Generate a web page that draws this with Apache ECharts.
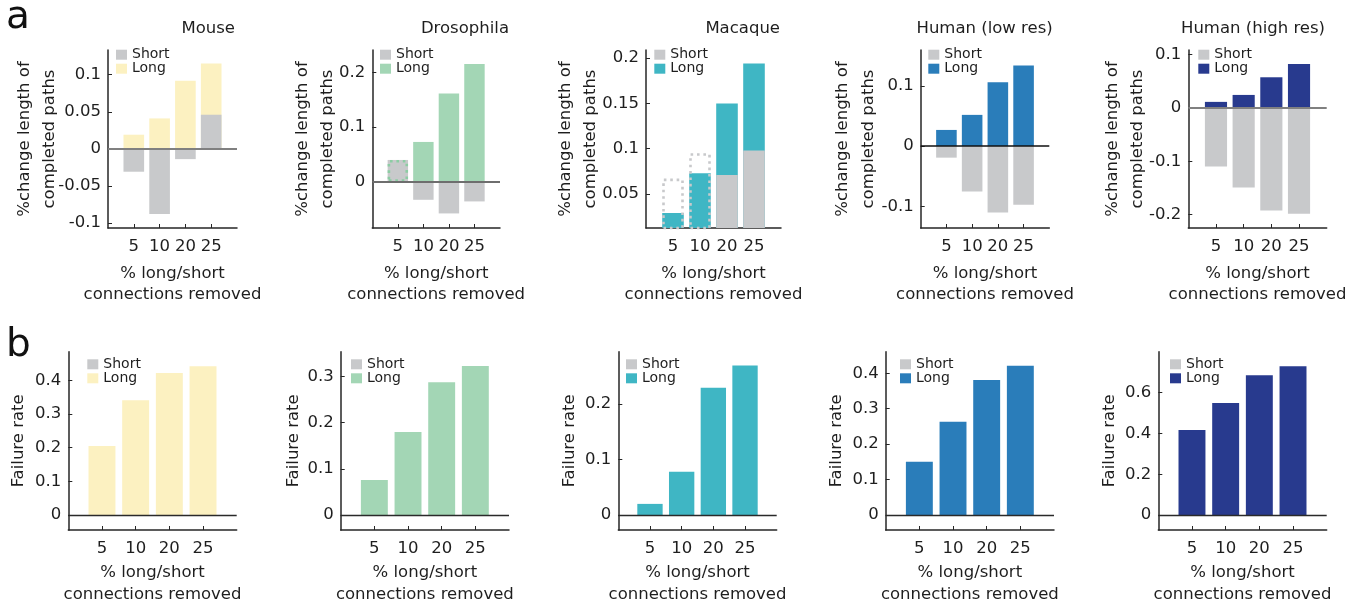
<!DOCTYPE html>
<html><head><meta charset="utf-8">
<script src="https://cdn.jsdelivr.net/npm/echarts@6/dist/echarts.min.js"></script>
<style>html,body{margin:0;padding:0;background:#fff}#chart{width:1354px;height:608px}</style>
</head><body><div id="chart"></div>
<script>
// ---------------- DATA ----------------
const categories = ['5', '10', '20', '25'];
const species = ['Mouse', 'Drosophila', 'Macaque', 'Human (low res)', 'Human (high res)'];
const legendNames = ['Short', 'Long'];
const panelLetters = ['a', 'b'];
const yNameChange = '%change length of\ncompleted paths';
const yNameFailure = 'Failure rate';
const xName = '% long/short\nconnections removed';

// Row a: %change length of completed paths
const mouseShortChange = [-0.031, -0.088, -0.014, 0.046];
const mouseLongChange = [0.019, 0.041, 0.092, 0.115];
const drosophilaShortChange = [0.040, -0.033, -0.058, -0.036];
const drosophilaLongChange = [0.040, 0.073, 0.162, 0.216];
const macaqueShortChange = [0.067, 0.095, 0.071, 0.098];
const macaqueLongChange = [0.029, 0.073, 0.150, 0.194];
const humanLowShortChange = [-0.019, -0.075, -0.110, -0.097];
const humanLowLongChange = [0.027, 0.052, 0.106, 0.134];
const humanHighShortChange = [-0.110, -0.149, -0.192, -0.198];
const humanHighLongChange = [0.011, 0.024, 0.057, 0.082];

// non-significant bars drawn as dotted outlines (category indices)
const drosophilaLongDotted = [0];
const macaqueShortDotted = [0, 1];

// Row b: failure rate (only Long bars are present)
const mouseFailure = [0.205, 0.341, 0.422, 0.442];
const drosophilaFailure = [0.076, 0.180, 0.288, 0.323];
const macaqueFailure = [0.020, 0.078, 0.229, 0.269];
const humanLowFailure = [0.150, 0.263, 0.381, 0.421];
const humanHighFailure = [0.417, 0.549, 0.686, 0.730];

// tick labels
const mouseChangeTicks = [-0.1, -0.05, 0, 0.05, 0.1];
const drosophilaChangeTicks = [0, 0.1, 0.2];
const macaqueChangeTicks = [0.05, 0.1, 0.15, 0.2];
const humanLowChangeTicks = [-0.1, 0, 0.1];
const humanHighChangeTicks = [-0.2, -0.1, 0, 0.1];
const mouseFailureTicks = [0, 0.1, 0.2, 0.3, 0.4];
const drosophilaFailureTicks = [0, 0.1, 0.2, 0.3];
const macaqueFailureTicks = [0, 0.1, 0.2];
const humanLowFailureTicks = [0, 0.1, 0.2, 0.3, 0.4];
const humanHighFailureTicks = [0, 0.2, 0.4, 0.6];

// ---------------- STYLE / LAYOUT ----------------
const FONT = 'DejaVu Sans';
const TXT = '#1e1e1e';
const AX = '#262626';
const SHORT_COLOR = '#C8C9CB';
const longColors = ['#FCF1C1', '#A3D6B5', '#3FB6C4', '#2A7DBA', '#283A8E'];
const dotColors = ['#F5E08A', '#8CCDA3', '#3FB6C4', '#2A7DBA', '#283A8E'];

const rowA = [
  {short: mouseShortChange, long: mouseLongChange, ticks: mouseChangeTicks, min: -0.107, max: 0.1334,
   left: 108, width: 129, nameGap: 45.5, legendLeft: 116, zero: '#808080', zeroW: 2, titleRight: 235, shortOnTop: true},
  {short: drosophilaShortChange, long: drosophilaLongChange, ticks: drosophilaChangeTicks, min: -0.0847, max: 0.2415,
   left: 372.3, width: 127.7, nameGap: 31.5, legendLeft: 380, zero: '#6e6e6e', zeroW: 2, titleRight: 509, shortOnTop: false,
   longDotted: drosophilaLongDotted},
  {short: macaqueShortChange, long: macaqueLongChange, ticks: macaqueChangeTicks, min: 0.0124, max: 0.209,
   left: 646, width: 135, nameGap: 42.2, legendLeft: 654.3, zero: null, titleRight: 780, shortOnTop: true,
   shortDotted: macaqueShortDotted},
  {short: humanLowShortChange, long: humanLowLongChange, ticks: humanLowChangeTicks, min: -0.1358, max: 0.1597,
   left: 920.7, width: 128.6, nameGap: 39.5, legendLeft: 928.3, zero: '#111111', zeroW: 1.5, titleRight: 1052.7, shortOnTop: true},
  {short: humanHighShortChange, long: humanHighLongChange, ticks: humanHighChangeTicks, min: -0.2248, max: 0.108,
   left: 1188.3, width: 138.4, nameGap: 37.5, legendLeft: 1198.3, zero: '#808080', zeroW: 2, titleRight: 1325, shortOnTop: true}
];
const rowB = [
  {long: mouseFailure, ticks: mouseFailureTicks, min: -0.0445, max: 0.485, left: 68.3, width: 168.4, nameGap: 41, legendLeft: 87.3},
  {long: drosophilaFailure, ticks: drosophilaFailureTicks, min: -0.0325, max: 0.354, left: 340.7, width: 168.3, nameGap: 38.4, legendLeft: 351},
  {long: macaqueFailure, ticks: macaqueFailureTicks, min: -0.027, max: 0.294, left: 618.3, width: 158.4, nameGap: 39.3, legendLeft: 626},
  {long: humanLowFailure, ticks: humanLowFailureTicks, min: -0.0424, max: 0.461, left: 885.7, width: 168.3, nameGap: 40, legendLeft: 900},
  {long: humanHighFailure, ticks: humanHighFailureTicks, min: -0.0735, max: 0.801, left: 1158.3, width: 168.4, nameGap: 39.3, legendLeft: 1170}
];

const paddedCats = [' ', ...categories, '  '];
const fmt = v => String(Math.round(v * 1000) / 1000);

const grid = [], xAxis = [], yAxis = [], series = [], legend = [], title = [];

function dottedStyle(color) {
  return {color: 'rgba(0,0,0,0)', borderColor: color, borderWidth: 2.6, borderType: [2.6, 3.8]};
}
function toData(arr, dotted, dotColor) {
  return ['-', ...arr.map((v, i) => (dotted && dotted.indexOf(i) >= 0) ? {value: v, itemStyle: dottedStyle(dotColor)} : v), '-'];
}

function addPanel(idx, cfg, row, sp) {
  const top = row === 0 ? 50 : 351.7;
  const height = row === 0 ? 178 : 178.3;
  grid.push({left: cfg.left, top: top, width: cfg.width, height: height, containLabel: false});
  xAxis.push({
    type: 'category', gridIndex: idx, data: paddedCats, boundaryGap: false,
    axisLine: {show: true, onZero: false, lineStyle: {color: AX, width: 1.5}},
    axisTick: {show: true, inside: true, length: 4, interval: (i) => i >= 1 && i <= categories.length, lineStyle: {color: AX, width: 1}},
    axisLabel: {interval: 0, margin: 10, fontFamily: FONT, fontSize: 16.5, color: TXT},
    splitLine: {show: false},
    name: xName, nameLocation: 'middle', nameGap: row === 0 ? 35 : 32, nameMoveOverlap: false,
    nameTextStyle: {fontFamily: FONT, fontSize: 16.5, color: TXT, lineHeight: row === 0 ? 21 : 22}
  });
  yAxis.push({
    type: 'value', gridIndex: idx, min: cfg.min, max: cfg.max,
    axisLine: {show: true, lineStyle: {color: AX, width: 1.5}},
    axisTick: {show: true, inside: true, length: 4, customValues: cfg.ticks, lineStyle: {color: AX, width: 1}},
    axisLabel: {customValues: cfg.ticks, formatter: fmt, margin: 7, fontFamily: FONT, fontSize: 16.5, color: TXT},
    splitLine: {show: false},
    name: row === 0 ? yNameChange : yNameFailure, nameLocation: 'middle', nameGap: cfg.nameGap,
    nameMoveOverlap: row !== 0,
    nameTextStyle: {fontFamily: FONT, fontSize: 16.5, color: TXT, lineHeight: row === 0 ? 25.5 : 18}
  });
  const tag = '|' + row + sp;
  const shortName = legendNames[0] + tag, longName = legendNames[1] + tag;
  const shortSeries = {
    type: 'bar', name: shortName, xAxisIndex: idx, yAxisIndex: idx, barWidth: '80%', barGap: '-100%',
    itemStyle: {color: SHORT_COLOR},
    data: cfg.short ? toData(cfg.short, cfg.shortDotted, SHORT_COLOR) : []
  };
  const longSeries = {
    type: 'bar', name: longName, xAxisIndex: idx, yAxisIndex: idx, barWidth: '80%', barGap: '-100%',
    itemStyle: {color: longColors[sp]},
    data: toData(cfg.long, cfg.longDotted, dotColors[sp])
  };
  const zeroColor = row === 0 ? cfg.zero : '#2a2a2a';
  if (zeroColor) {
    longSeries.markLine = {
      silent: true, symbol: 'none', animation: false, z: 5,
      label: {show: false},
      lineStyle: {color: zeroColor, width: row === 0 ? cfg.zeroW : 1.3, type: 'solid'},
      emphasis: {disabled: true},
      data: [{yAxis: 0}]
    };
  }
  if (cfg.shortOnTop === false) { series.push(shortSeries, longSeries); }
  else { series.push(longSeries, shortSeries); }
  legend.push({
    data: [shortName, longName], orient: 'vertical', left: cfg.legendLeft,
    top: row === 0 ? 47.7 : 357.3, padding: 0, itemGap: 0, itemWidth: 11, itemHeight: 10,
    icon: 'rect', selectedMode: false,
    formatter: n => n.split('|')[0],
    textStyle: {fontFamily: FONT, fontSize: 14, color: TXT, lineHeight: 14}
  });
  if (row === 0) {
    title.push({text: species[sp], left: cfg.titleRight, top: 19, textAlign: 'right', padding: 0,
      textStyle: {fontFamily: FONT, fontSize: 16.5, fontWeight: 'normal', color: TXT, lineHeight: 20}});
  }
}

rowA.forEach((cfg, i) => addPanel(i, cfg, 0, i));
rowB.forEach((cfg, i) => addPanel(5 + i, cfg, 1, i));

title.push({text: panelLetters[0], left: 6, top: -2, padding: 0,
  textStyle: {fontFamily: FONT, fontSize: 39, fontWeight: 'normal', color: '#111', lineHeight: 40}});
title.push({text: panelLetters[1], left: 6, top: 326, padding: 0,
  textStyle: {fontFamily: FONT, fontSize: 39, fontWeight: 'normal', color: '#111', lineHeight: 40}});

const chart = echarts.init(document.getElementById('chart'), null, {renderer: 'canvas'});
chart.setOption({animation: false, backgroundColor: '#ffffff', title, grid, xAxis, yAxis, series, legend});
</script></body></html>
